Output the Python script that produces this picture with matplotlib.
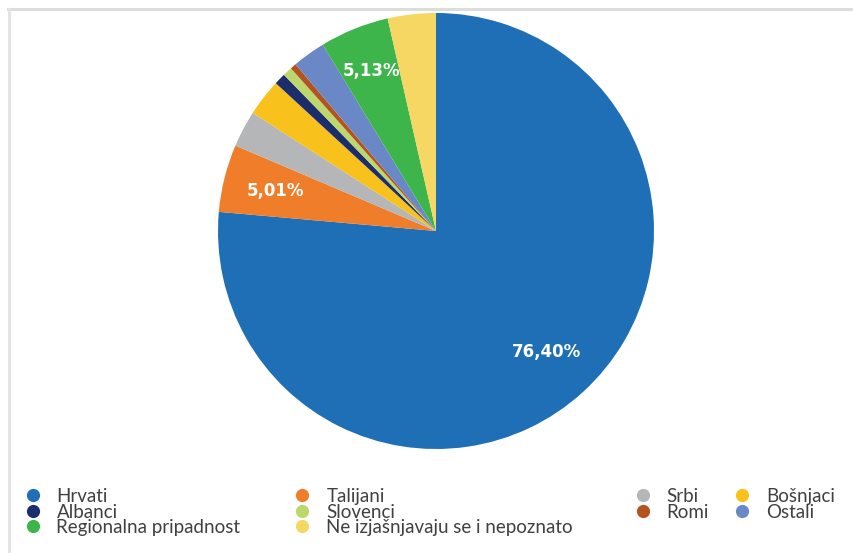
import matplotlib.pyplot as plt
from matplotlib.lines import Line2D
import numpy as np

# Ethnic composition, share of population (%)
groups = ['Hrvati', 'Talijani', 'Srbi', 'Bošnjaci', 'Albanci', 'Slovenci',
          'Romi', 'Ostali', 'Regionalna pripadnost', 'Ne izjašnjavaju se i nepoznato']
shares = [76.40, 5.01, 2.70, 2.75, 0.85, 0.70, 0.45, 2.45, 5.13, 3.56]
colors = ['#1f6fb6', '#f07d2a', '#b5b6b8', '#f8c11c', '#1c2d6b', '#bcd76c',
          '#b3531f', '#6a88c6', '#3db54b', '#f6d763']
labelled = {'Hrvati': '76,40%', 'Talijani': '5,01%', 'Regionalna pripadnost': '5,13%'}
# distance of each label from the centre (fraction of radius)
label_r = {'Hrvati': 0.75, 'Talijani': 0.76, 'Regionalna pripadnost': 0.79}

W, H = 854, 553
fig = plt.figure(figsize=(W / 100, H / 100), dpi=100)
fig.patch.set_facecolor('white')

cx, cy, r = 436, 231, 218
ax = fig.add_axes([(cx - r) / W, (H - cy - r) / H, 2 * r / W, 2 * r / H])
wedges, _ = ax.pie(shares, colors=colors, startangle=90, counterclock=False,
                   wedgeprops=dict(linewidth=0))
ax.set_xlim(-1, 1)
ax.set_ylim(-1, 1)
ax.axis('off')

for w, g in zip(wedges, groups):
    if g in labelled:
        mid = np.deg2rad((w.theta1 + w.theta2) / 2)
        rr = label_r[g]
        ax.text(rr * np.cos(mid), rr * np.sin(mid), labelled[g], color='white',
                fontsize=12, fontweight='heavy', ha='center', va='center')

# thin frame along top and left
fig.add_artist(Line2D([8 / W, 1], [1 - 9 / H, 1 - 9 / H], transform=fig.transFigure,
                      color='#dcdcdc', lw=2.2))
fig.add_artist(Line2D([9 / W, 9 / W], [0, 1 - 9 / H], transform=fig.transFigure,
                      color='#e4e4e4', lw=2.2))

def handle(g):
    return Line2D([], [], marker='o', linestyle='none', markersize=9.5,
                  markerfacecolor=colors[groups.index(g)], markeredgewidth=0)

# legend columns: entries and left edge in px
legend_cols = [
    (['Hrvati', 'Albanci', 'Regionalna pripadnost'], 25),
    (['Talijani', 'Slovenci', 'Ne izjašnjavaju se i nepoznato'], 295),
    (['Srbi', 'Romi'], 635),
    (['Bošnjaci', 'Ostali'], 735),
]
for names, x0 in legend_cols:
    leg = fig.legend([handle(g) for g in names], names, loc='upper left',
                     bbox_to_anchor=(x0 / W, 1 - 488 / H), frameon=False,
                     prop={'family': 'Lato', 'size': 13.5}, labelspacing=-0.08,
                     handletextpad=0.88, borderpad=0, handlelength=0.8,
                     borderaxespad=0)
    for t in leg.get_texts():
        t.set_color('#404040')

fig.savefig('out.png', dpi=100, facecolor='white')
